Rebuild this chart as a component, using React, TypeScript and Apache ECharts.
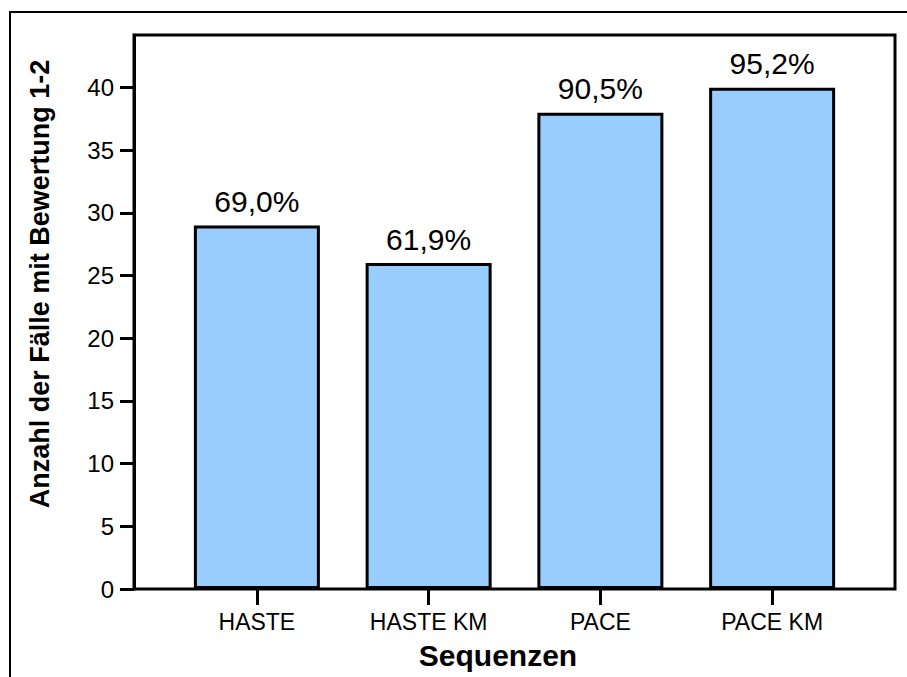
import React, { useEffect, useRef } from "react";
import * as echarts from "echarts";

const categories = ["HASTE", "HASTE KM", "PACE", "PACE KM"];
const counts = [29, 26, 38, 40];
const percentLabels = ["69,0%", "61,9%", "90,5%", "95,2%"];
const yTicks = [0, 5, 10, 15, 20, 25, 30, 35, 40];
const yMax = 44.2;
const xTitle = "Sequenzen";
const yTitle = "Anzahl der Fälle mit Bewertung 1-2";

const FONT = "'Liberation Sans', Arial, Helvetica, sans-serif";

export default function App() {
  const ref = useRef<HTMLDivElement>(null);
  useEffect(() => {
    document.body.style.margin = "0";
    const chart = echarts.init(ref.current!, null, { renderer: "svg" });
    chart.setOption({
      animation: false,
      backgroundColor: "#fff",
      textStyle: { fontFamily: FONT, color: "#000" },
      grid: [
        { left: 171, right: 49, top: 35, bottom: 88, containLabel: false },
        {
          left: 134, right: 12, top: 35, bottom: 88, containLabel: false,
          show: true, borderColor: "#000", borderWidth: 3, backgroundColor: "transparent", z: 10,
        },
      ],
      xAxis: [
        {
          type: "category",
          gridIndex: 0,
          data: categories,
          axisLine: { show: false },
          axisTick: { show: true, alignWithLabel: true, length: 16, lineStyle: { color: "#000", width: 3 } },
          axisLabel: { fontSize: 23, color: "#000", fontFamily: FONT, margin: 21 },
          splitLine: { show: false },
        },
        { type: "value", gridIndex: 1, show: false, min: 0, max: 1 },
      ],
      yAxis: [
        { type: "value", gridIndex: 0, show: false, min: 0, max: yMax },
        {
          type: "value",
          gridIndex: 1,
          min: 0,
          max: yMax,
          axisLine: { show: true, lineStyle: { color: "#000", width: 3 } },
          axisTick: { show: true, length: 14, lineStyle: { color: "#000", width: 3 }, customValues: yTicks },
          axisLabel: { fontSize: 24, color: "#000", fontFamily: FONT, margin: 20, customValues: yTicks },
          splitLine: { show: false },
        },
      ],
      series: [
        {
          type: "bar",
          xAxisIndex: 0,
          yAxisIndex: 0,
          data: counts,
          barWidth: 126,
          itemStyle: { color: "#99CCFF", borderColor: "#000", borderWidth: 3 },
          label: {
            show: true,
            position: "top",
            distance: 9,
            fontSize: 30,
            color: "#000",
            fontFamily: FONT,
            formatter: (p: any) => percentLabels[p.dataIndex],
          },
        },
      ],
      graphic: [
        {
          type: "rect",
          shape: { x: 10, y: 12, width: 1200, height: 1200 },
          style: { fill: "none", stroke: "#000", lineWidth: 2 },
          silent: true,
        },
        {
          type: "text",
          x: 498,
          y: 655,
          style: {
            text: xTitle,
            font: `bold 30px ${FONT}`,
            fill: "#000",
            align: "center",
            verticalAlign: "middle",
          },
        },
        {
          type: "text",
          x: 40,
          y: 284,
          rotation: Math.PI / 2,
          style: {
            text: yTitle,
            font: `bold 27px ${FONT}`,
            fill: "#000",
            align: "center",
            verticalAlign: "middle",
          },
        },
      ],
    });
    return () => chart.dispose();
  }, []);
  return <div ref={ref} style={{ width: 907, height: 677 }} />;
}
